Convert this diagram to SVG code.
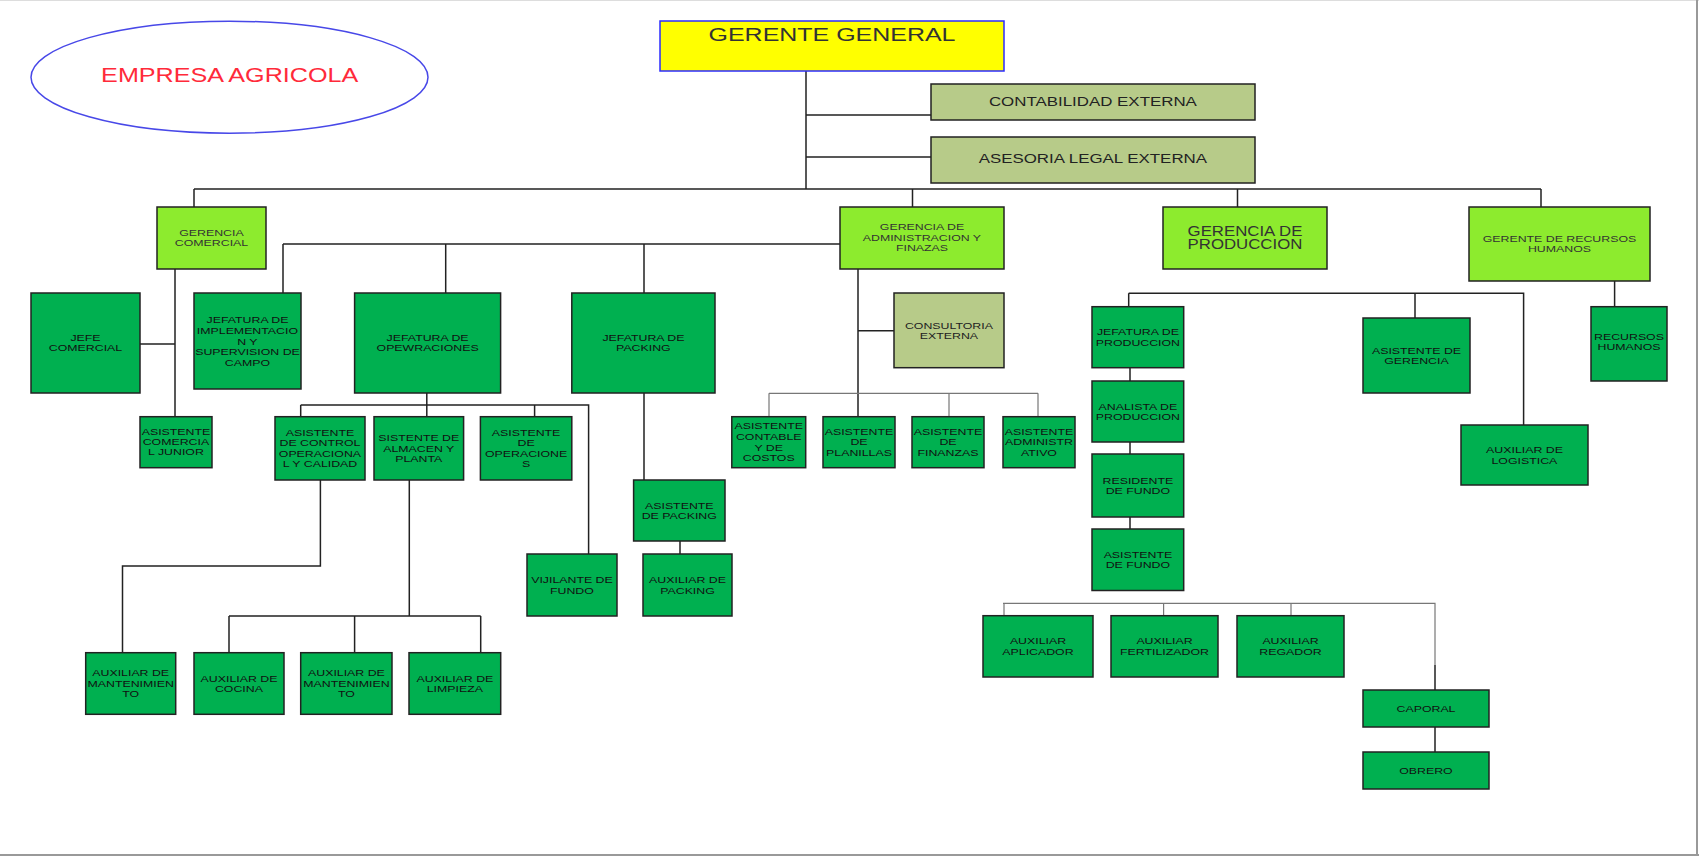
<svg xmlns="http://www.w3.org/2000/svg" width="1699" height="856" viewBox="0 0 1699 856">
<style>
.b{stroke:#222;stroke-width:1.5}
.dg{fill:#00B050}
.lg{fill:#8DEB2E}
.ol{fill:#B7CB89}
.t{font-family:"Liberation Sans",Arial,sans-serif;font-size:9.5px;fill:#111;text-anchor:middle;transform-box:fill-box;transform-origin:center;transform:scaleX(1.3)}
.tl{fill:#333}
.c{fill:none;stroke:#222;stroke-width:1.5}
.g{fill:none;stroke:#777;stroke-width:1.2}
</style>
<rect x="0" y="0" width="1699" height="856" fill="#fff"/>
<line x1="0" y1="0.5" x2="1699" y2="0.5" stroke="#ddd" stroke-width="1"/>
<line x1="1697" y1="0" x2="1697" y2="856" stroke="#999" stroke-width="2"/>
<line x1="0" y1="855" x2="1699" y2="855" stroke="#999" stroke-width="2"/>

<g id="titulo">
<ellipse cx="229.5" cy="77.2" rx="198.5" ry="56" fill="none" stroke="#4848e8" stroke-width="1.5"/>
<text class="t" x="229.7" y="81.7" style="font-size:19.5px;fill:#ff2a3a;transform:scaleX(1.29)">EMPRESA AGRICOLA</text>
</g>

<g id="connectors">
<path class="c" d="M806,71V189M806,115H931M806,157H931M194,189H1541M194,189V207M912.5,189V207M1237.5,189V207M1541,189V207"/>
<path class="c" d="M175,269V416.7M140,344H175"/>
<path class="c" d="M858,269V416.7M858,330.7H894M283,244H840M283,244V293M445.7,244V293M644,244V293"/>
<path class="c" d="M426.8,393V405M300.7,405H588.6V554M300.7,405V416.7M426.8,405V416.7M534.6,405V416.7"/>
<path class="c" d="M320.4,480V566H122.5V652.7"/>
<path class="c" d="M409.3,480V616M229,616H480.7M229,616V652.7M354.6,616V652.7M480.7,616V652.7"/>
<path class="c" d="M644,393V480M680,541V554"/>
<path class="g" d="M769,393.3H1038M769,393.3V416.7M949,393.3V416.7M1038,393.3V416.7"/>
<path class="c" d="M1128.7,293.3H1523.6V425M1128.7,293.3V306.7M1415,293.3V318"/>
<path class="c" d="M1614.6,281V306.7"/>
<path class="c" d="M1130,367.7V381M1130,442V454M1130,517V529"/>
<path class="g" d="M1003,603.3H1435V665M1004,603.3V615.7M1163.6,603.3V615.7M1291,603.3V615.7"/>
<path class="c" d="M1435,665V690M1435,727V752"/>
</g>

<g id="n_gg">
<rect x="660" y="21" width="344" height="50" fill="#FFFF00" stroke="#2b2bff" stroke-width="1.5"/>
<text class="t tl" x="832" y="40.7" style="font-size:18.5px;transform:scaleX(1.35)">GERENTE GENERAL</text>
</g>
<g id="n_contab">
<rect class="ol b" x="931" y="84" width="324" height="36"/>
<text class="t" x="1093" y="106" style="font-size:13px;fill:#222">CONTABILIDAD EXTERNA</text>
</g>
<g id="n_asesoria">
<rect class="ol b" x="931" y="137" width="324" height="46"/>
<text class="t" x="1093" y="163" style="font-size:13px;fill:#222">ASESORIA LEGAL EXTERNA</text>
</g>

<g id="n_gcom">
<rect class="lg b" x="157" y="207" width="109" height="62"/>
<text class="t tl" x="211.5" y="235.7">GERENCIA</text>
<text class="t tl" x="211.5" y="246.1">COMERCIAL</text>
</g>
<g id="n_gadm">
<rect class="lg b" x="840" y="207" width="164" height="62"/>
<text class="t tl" x="922" y="230.4">GERENCIA DE</text>
<text class="t tl" x="922" y="240.9">ADMINISTRACION Y</text>
<text class="t tl" x="922" y="251.4">FINAZAS</text>
</g>
<g id="n_gprod">
<rect class="lg b" x="1163" y="207" width="164" height="62"/>
<text class="t tl" x="1245" y="235.7" style="font-size:14px;transform:scaleX(1.2)">GERENCIA DE</text>
<text class="t tl" x="1245" y="249" style="font-size:14px;transform:scaleX(1.2)">PRODUCCION</text>
</g>
<g id="n_grrhh">
<rect class="lg b" x="1469" y="207" width="181" height="74"/>
<text class="t tl" x="1559.5" y="242.1">GERENTE DE RECURSOS</text>
<text class="t tl" x="1559.5" y="252.4">HUMANOS</text>
</g>

<g id="n_jefecom">
<rect class="dg b" x="31" y="293" width="109" height="100"/>
<text class="t" x="85.5" y="341.4">JEFE</text>
<text class="t" x="85.5" y="351.4">COMERCIAL</text>
</g>
<g id="n_jimpl">
<rect class="dg b" x="194" y="293" width="107" height="96"/>
<text class="t" x="247.5" y="323.4">JEFATURA DE</text>
<text class="t" x="247.5" y="334">IMPLEMENTACIO</text>
<text class="t" x="247.5" y="344.6">N Y</text>
<text class="t" x="247.5" y="355.2">SUPERVISION DE</text>
<text class="t" x="247.5" y="365.8">CAMPO</text>
</g>
<g id="n_jop">
<rect class="dg b" x="354.6" y="293" width="146" height="100"/>
<text class="t" x="427.6" y="341.4">JEFATURA DE</text>
<text class="t" x="427.6" y="351.4">OPEWRACIONES</text>
</g>
<g id="n_jpack">
<rect class="dg b" x="571.8" y="293" width="143.2" height="100"/>
<text class="t" x="643.4" y="341.4">JEFATURA DE</text>
<text class="t" x="643.4" y="351.4">PACKING</text>
</g>
<g id="n_consult">
<rect class="ol b" x="894" y="293" width="110" height="74.7"/>
<text class="t" x="949" y="329.1" style="fill:#222">CONSULTORIA</text>
<text class="t" x="949" y="339.4" style="fill:#222">EXTERNA</text>
</g>

<g id="n_asjun">
<rect class="dg b" x="140" y="416.7" width="72" height="51"/>
<text class="t" x="176" y="435.4">ASISTENTE</text>
<text class="t" x="176" y="445.4">COMERCIA</text>
<text class="t" x="176" y="455.4">L JUNIOR</text>
</g>
<g id="n_asctrl">
<rect class="dg b" x="275" y="416.7" width="90" height="63.3"/>
<text class="t" x="320" y="435.7">ASISTENTE</text>
<text class="t" x="320" y="446.3">DE CONTROL</text>
<text class="t" x="320" y="456.9">OPERACIONA</text>
<text class="t" x="320" y="467.5">L Y CALIDAD</text>
</g>
<g id="n_asalm">
<rect class="dg b" x="374" y="416.7" width="89.6" height="63.3"/>
<text class="t" x="418.8" y="441.1">SISTENTE DE</text>
<text class="t" x="418.8" y="451.7">ALMACEN Y</text>
<text class="t" x="418.8" y="462.3">PLANTA</text>
</g>
<g id="n_asop">
<rect class="dg b" x="480.4" y="416.7" width="91.4" height="63.3"/>
<text class="t" x="526.1" y="435.7">ASISTENTE</text>
<text class="t" x="526.1" y="446.3">DE</text>
<text class="t" x="526.1" y="456.9">OPERACIONE</text>
<text class="t" x="526.1" y="467.5">S</text>
</g>
<g id="n_ascont">
<rect class="dg b" x="731.8" y="416.7" width="73.9" height="51"/>
<text class="t" x="768.7" y="429.5">ASISTENTE</text>
<text class="t" x="768.7" y="440.1">CONTABLE</text>
<text class="t" x="768.7" y="450.7">Y DE</text>
<text class="t" x="768.7" y="461.3">COSTOS</text>
</g>
<g id="n_asplan">
<rect class="dg b" x="823" y="416.7" width="72" height="51"/>
<text class="t" x="859" y="434.8">ASISTENTE</text>
<text class="t" x="859" y="445.4">DE</text>
<text class="t" x="859" y="456">PLANILLAS</text>
</g>
<g id="n_asfin">
<rect class="dg b" x="912" y="416.7" width="72" height="51"/>
<text class="t" x="948" y="434.8">ASISTENTE</text>
<text class="t" x="948" y="445.4">DE</text>
<text class="t" x="948" y="456">FINANZAS</text>
</g>
<g id="n_asadm">
<rect class="dg b" x="1003" y="416.7" width="72" height="51"/>
<text class="t" x="1039" y="434.8">ASISTENTE</text>
<text class="t" x="1039" y="445.4">ADMINISTR</text>
<text class="t" x="1039" y="456">ATIVO</text>
</g>
<g id="n_aspack">
<rect class="dg b" x="633.6" y="480" width="91.4" height="61"/>
<text class="t" x="679.3" y="508.6">ASISTENTE</text>
<text class="t" x="679.3" y="519.2">DE PACKING</text>
</g>
<g id="n_vij">
<rect class="dg b" x="527" y="554" width="90" height="62"/>
<text class="t" x="572" y="583.1">VIJILANTE DE</text>
<text class="t" x="572" y="593.7">FUNDO</text>
</g>
<g id="n_auxpack">
<rect class="dg b" x="643" y="554" width="89" height="62"/>
<text class="t" x="687.5" y="583.1">AUXILIAR DE</text>
<text class="t" x="687.5" y="593.7">PACKING</text>
</g>
<g id="n_auxm1">
<rect class="dg b" x="85.7" y="652.7" width="90" height="61.6"/>
<text class="t" x="130.7" y="676.3">AUXILIAR DE</text>
<text class="t" x="130.7" y="686.9">MANTENIMIEN</text>
<text class="t" x="130.7" y="697.5">TO</text>
</g>
<g id="n_auxcoc">
<rect class="dg b" x="194" y="652.7" width="90" height="61.6"/>
<text class="t" x="239" y="681.6">AUXILIAR DE</text>
<text class="t" x="239" y="692.2">COCINA</text>
</g>
<g id="n_auxm2">
<rect class="dg b" x="300.7" y="652.7" width="91.3" height="61.6"/>
<text class="t" x="346.4" y="676.3">AUXILIAR DE</text>
<text class="t" x="346.4" y="686.9">MANTENIMIEN</text>
<text class="t" x="346.4" y="697.5">TO</text>
</g>
<g id="n_auxlimp">
<rect class="dg b" x="409" y="652.7" width="91.7" height="61.6"/>
<text class="t" x="454.9" y="681.6">AUXILIAR DE</text>
<text class="t" x="454.9" y="692.2">LIMPIEZA</text>
</g>

<g id="n_jprod">
<rect class="dg b" x="1092" y="306.7" width="91.7" height="61"/>
<text class="t" x="1137.9" y="335.3">JEFATURA DE</text>
<text class="t" x="1137.9" y="345.9">PRODUCCION</text>
</g>
<g id="n_anal">
<rect class="dg b" x="1092" y="381" width="91.7" height="61"/>
<text class="t" x="1137.9" y="409.6">ANALISTA DE</text>
<text class="t" x="1137.9" y="420.2">PRODUCCION</text>
</g>
<g id="n_resid">
<rect class="dg b" x="1092" y="454" width="91.7" height="63"/>
<text class="t" x="1137.9" y="483.6">RESIDENTE</text>
<text class="t" x="1137.9" y="494.2">DE FUNDO</text>
</g>
<g id="n_asfundo">
<rect class="dg b" x="1092" y="529" width="91.7" height="61.5"/>
<text class="t" x="1137.9" y="557.9">ASISTENTE</text>
<text class="t" x="1137.9" y="568.5">DE FUNDO</text>
</g>
<g id="n_asger">
<rect class="dg b" x="1363" y="318" width="107" height="75"/>
<text class="t" x="1416.5" y="353.6">ASISTENTE DE</text>
<text class="t" x="1416.5" y="364.2">GERENCIA</text>
</g>
<g id="n_auxlog">
<rect class="dg b" x="1461" y="425" width="127" height="60"/>
<text class="t" x="1524.5" y="453.1">AUXILIAR DE</text>
<text class="t" x="1524.5" y="463.7">LOGISTICA</text>
</g>
<g id="n_rrhh">
<rect class="dg b" x="1591" y="306.7" width="76" height="74.3"/>
<text class="t" x="1629" y="340.1">RECURSOS</text>
<text class="t" x="1629" y="350.4">HUMANOS</text>
</g>
<g id="n_auxapl">
<rect class="dg b" x="983" y="615.7" width="110" height="61.3"/>
<text class="t" x="1038" y="644.4">AUXILIAR</text>
<text class="t" x="1038" y="655">APLICADOR</text>
</g>
<g id="n_auxfert">
<rect class="dg b" x="1111" y="615.7" width="107" height="61.3"/>
<text class="t" x="1164.5" y="644.4">AUXILIAR</text>
<text class="t" x="1164.5" y="655">FERTILIZADOR</text>
</g>
<g id="n_auxreg">
<rect class="dg b" x="1237" y="615.7" width="107" height="61.3"/>
<text class="t" x="1290.5" y="644.4">AUXILIAR</text>
<text class="t" x="1290.5" y="655">REGADOR</text>
</g>
<g id="n_caporal">
<rect class="dg b" x="1363" y="690" width="126" height="37"/>
<text class="t" x="1426" y="711.9">CAPORAL</text>
</g>
<g id="n_obrero">
<rect class="dg b" x="1363" y="752" width="126" height="37"/>
<text class="t" x="1426" y="773.9">OBRERO</text>
</g>
</svg>
